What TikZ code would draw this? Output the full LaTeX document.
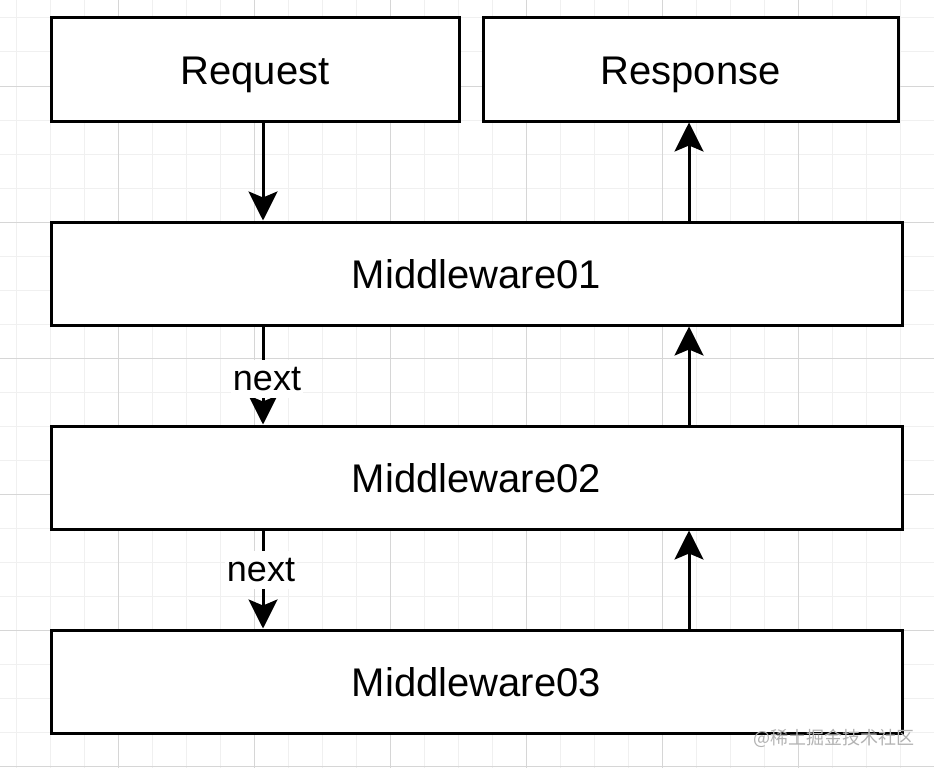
\documentclass[tikz,border=0pt]{standalone}
\usepackage{fontspec}
\setmainfont{Liberation Sans}
\newfontfamily\cjkfont{Noto Sans CJK SC}
\usetikzlibrary{arrows.meta}
\definecolor{gridminor}{HTML}{F0F0F0}
\definecolor{gridmajor}{HTML}{D6D6D6}
\tikzset{
  box/.style={draw, line width=3pt, fill=white, inner sep=0pt,
    minimum height=103pt, font=\fontsize{40}{48}\selectfont,
    text height=36pt, text depth=6pt},
  arr/.style={line width=3pt, -{Stealth[length=29pt, width=29pt, inset=6pt]}},
  lab/.style={fill=white, inner sep=2pt, font=\fontsize{36}{42}\selectfont,
    text height=28pt, text depth=6pt, anchor=base},
  minorline/.style={gridminor, line width=1pt},
  majorline/.style={gridmajor, line width=1pt}
}
\begin{document}
\begin{tikzpicture}[x=1pt,y=-1pt]
\useasboundingbox (0,0) rectangle (934,768);
\fill[white] (0,0) rectangle (934,768);
% grid
\foreach \x in {16,50,...,934} \draw[minorline] (\x,0) -- (\x,768);
\foreach \y in {18,52,...,768} \draw[minorline] (0,\y) -- (934,\y);
\foreach \x in {118,254,...,934} \draw[majorline] (\x,0) -- (\x,768);
\foreach \y in {86,222,...,768} \draw[majorline] (0,\y) -- (934,\y);
% boxes
\node[box, minimum width=408pt] (req) at (255,69.5) {Request};
\node[box, minimum width=415pt] (resp) at (690.5,69.5) {Response};
\node[box, minimum width=851pt] (m1) at (476.5,273.5) {Middleware01};
\node[box, minimum width=851pt] (m2) at (476.5,477.5) {Middleware02};
\node[box, minimum width=851pt] (m3) at (476.5,681.5) {Middleware03};
% guide coordinates
\coordinate (lx) at (263,0);
\coordinate (rx) at (689,0);
% down arrows
\draw[arr] (req.south -| lx) -- (m1.north -| lx);
\draw[arr] (m1.south -| lx) -- (m2.north -| lx);
\draw[arr] (m2.south -| lx) -- (m3.north -| lx);
\node[lab] (n1) at (267,390) {next};
\node[lab] (n2) at (261,581) {next};
% up arrows
\draw[arr] (m3.north -| rx) -- (m2.south -| rx);
\draw[arr] (m2.north -| rx) -- (m1.south -| rx);
\draw[arr] (m1.north -| rx) -- (resp.south -| rx);
% watermark
\node[text=black!30, font=\cjkfont\fontsize{18}{20}\selectfont, anchor=base, inner sep=0pt] (wm) at (834,744) {@稀土掘金技术社区};
\end{tikzpicture}
\end{document}
